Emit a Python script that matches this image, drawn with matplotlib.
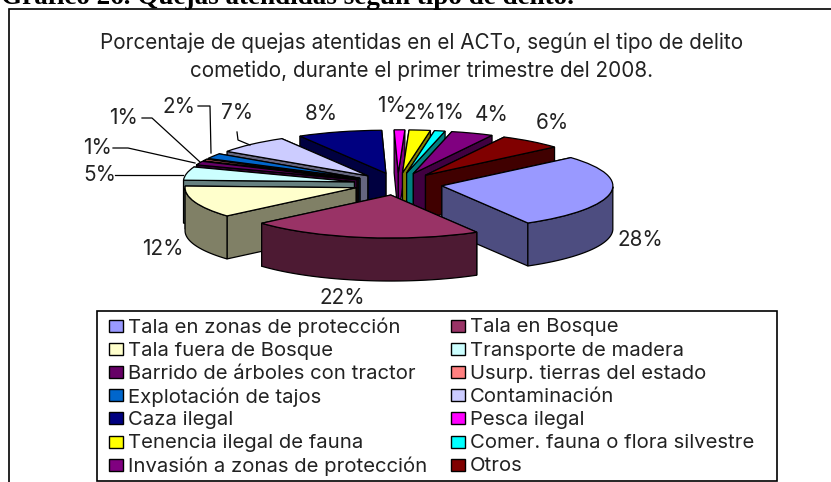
import numpy as np
import matplotlib
matplotlib.use('Agg')
import matplotlib.pyplot as plt
from matplotlib.patches import Rectangle

plt.rcParams['font.family'] = ['Inter', 'Liberation Sans', 'DejaVu Sans']

W, H = 831, 482

categories = ['Tala en zonas de protección', 'Tala en Bosque', 'Tala fuera de Bosque',
              'Transporte de madera', 'Barrido de árboles con tractor', 'Usurp. tierras del estado',
              'Explotación de tajos', 'Contaminación', 'Caza ilegal', 'Pesca ilegal',
              'Tenencia ilegal de fauna', 'Comer. fauna o flora silvestre',
              'Invasión a zonas de protección', 'Otros']
values = [28, 22, 12, 5, 1.4, 0.6, 2, 7, 8, 1, 2, 1, 4, 6]
colors = ['#9999FF', '#993366', '#FFFFCC', '#CCFFFF', '#660066', '#FF8080', '#0066CC',
          '#CCCCFF', '#000080', '#FF00FF', '#FFFF00', '#00FFFF', '#800080', '#800000']
dark_colors = ['#4D4D80', '#4D1A33', '#808066', '#668080', '#330033', '#804040', '#003366',
               '#666680', '#000040', '#800080', '#808000', '#008080', '#400040', '#400000']

# label centres in pixels, same order as values
label_pos = [(640, 240), (342, 298), (163, 249), (100, 175), (98, 148), (123, 118), (179, 107),
             (237, 113), (321, 114), (392, 106), (420, 113), (450, 113), (492, 115), (552, 123)]
leaders = [[(115, 175), (183, 175)],
           [(113, 148), (128, 148), (195, 163)],
           [(142, 118), (152, 118), (200, 162)],
           [(198, 106), (210, 106), (211, 153)],
           [(237, 132), (238, 140), (250, 145)]]

title_lines = ['Porcentaje de quejas atentidas en el ACTo, según el tipo de delito',
               'cometido, durante el primer trimestre del 2008.']
header = 'Gráfico 26. Quejas atendidas según tipo de delito.'

CX, CY, RX, RY = 398, 184, 171, 43
FS = 14.9

fig = plt.figure(figsize=(W / 100, H / 100), dpi=100)
ax = fig.add_axes([0, 0, 1, 1])
wedges, _ = ax.pie(values, colors=colors, startangle=41, counterclock=False,
                   explode=[0.26] * len(values),
                   wedgeprops=dict(edgecolor='black', linewidth=0.9))
ax.set_aspect('auto')
ax.set_xlim(-CX / RX, (W - CX) / RX)
ax.set_ylim((CY - H) / RY, CY / RY)
ax.axis('off')

# fake the 3D look: back slices first, walls under each top
depth = 1.0
order = sorted(range(len(wedges)),
               key=lambda i: -np.sin(np.radians((wedges[i].theta1 + wedges[i].theta2) / 2)))
for z, i in enumerate(order):
    w = wedges[i]
    cx, cy = w.center
    w.set_zorder(10 + z + 0.5)
    walls = []
    for th in (w.theta1, w.theta2):
        px, py = cx + np.cos(np.radians(th)), cy + np.sin(np.radians(th))
        walls.append((-(cy + py), [cx, px, px, cx], [cy, py, py - depth, cy - depth]))
    walls.sort(key=lambda t: t[0])
    for k, (_, xs, ys) in enumerate(walls):
        ax.fill(xs, ys, facecolor=dark_colors[i], edgecolor='black', linewidth=0.9,
                zorder=10 + z + 0.1 + k * 0.1)
    t = np.radians(np.linspace(w.theta1, w.theta2, 80))
    t = t[np.sin(t) < 0]
    if len(t) > 1:
        ax_x = cx + np.cos(t)
        ax_y = cy + np.sin(t)
        ax.fill(np.r_[ax_x, ax_x[::-1]], np.r_[ax_y, ax_y[::-1] - depth],
                facecolor=dark_colors[i], edgecolor='black', linewidth=0.9,
                zorder=10 + z + 0.4)

# overlay in pixel coordinates for text, frame and legend
pix = fig.add_axes([0, 0, 1, 1])
pix.set_xlim(0, W)
pix.set_ylim(H, 0)
pix.axis('off')
pix.patch.set_alpha(0)

pix.text(1, 3.5, header, family='Liberation Serif', fontweight='bold', fontsize=19.5,
         va='baseline', ha='left', color='black')
pix.plot([9, 9, W], [H, 8.5, 8.5], color='black', lw=1.2, solid_joinstyle='miter')

for line, y in zip(title_lines, [43, 71]):
    pix.text(422, y, line, ha='center', va='center', fontsize=FS, color='#222222')

for v, (x, y) in zip(values, label_pos):
    pix.text(x, y, f'{v:.0f}%', ha='center', va='center', fontsize=FS, color='#222222')

for pts in leaders:
    xs, ys = zip(*pts)
    pix.plot(xs, ys, color='black', lw=0.9)

# legend by hand, matplotlib's own spaces the rows unevenly
pix.add_patch(Rectangle((97, 311), 680, 170, facecolor='white', edgecolor='black', lw=1.2))
for i, (name, col) in enumerate(zip(categories, colors)):
    row, c = i // 2, i % 2
    y = 326 + 23.1 * row
    sx = [109, 451][c]
    pix.add_patch(Rectangle((sx, y - 6), 14, 12, facecolor=col, edgecolor='black', lw=1.0))
    pix.text(sx + 19, y + 1.5, name, va='center', ha='left', fontsize=14.6, color='#222222')

fig.savefig('out.png', dpi=100)
